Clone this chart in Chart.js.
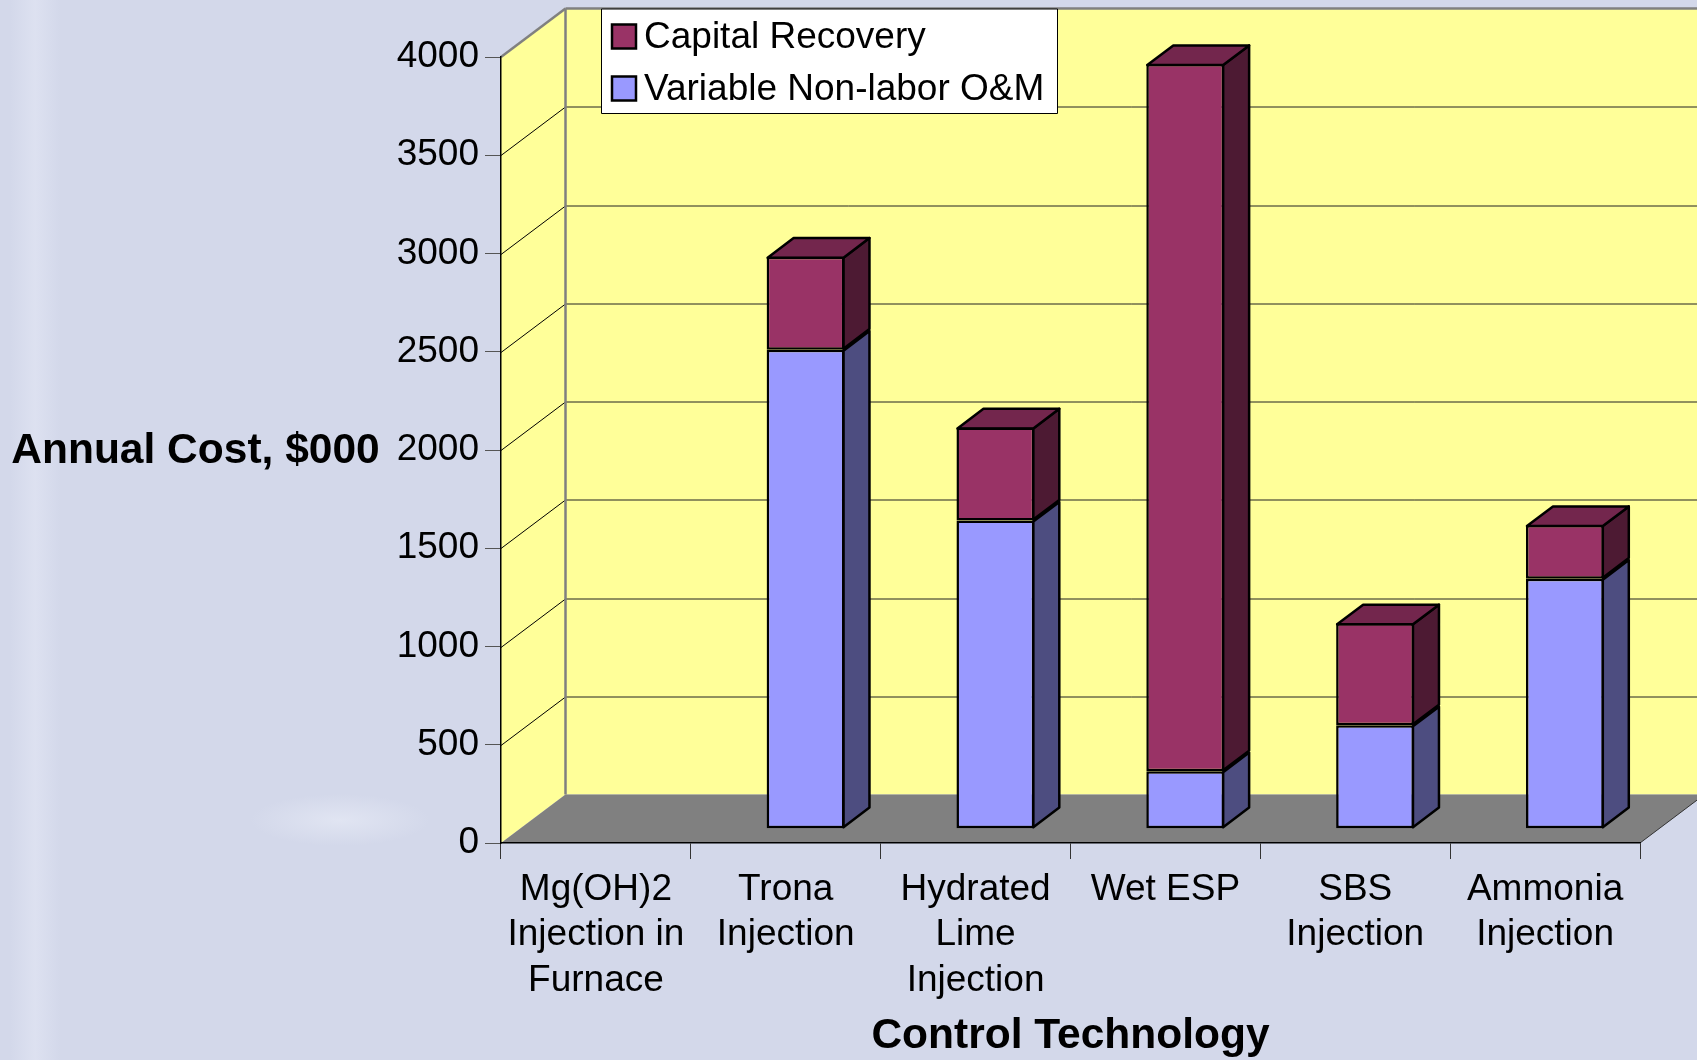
<!DOCTYPE html>
<html>
<head>
<meta charset="utf-8">
<title>Annual Cost by Control Technology</title>
<style>
    html, body { margin: 0; padding: 0; overflow: hidden; }
    body {
        width: 1697px;
        height: 1060px;
        background-color: #d3d8ea;
        background-image:
            radial-gradient(ellipse 90px 26px at 340px 820px, rgba(226, 230, 243, .9), rgba(226, 230, 243, 0)),
            linear-gradient(90deg, rgba(222, 226, 241, 0) 10px, rgba(222, 226, 241, .9) 35px, rgba(222, 226, 241, 0) 60px);
    }
    canvas { display: block; }
</style>
</head>
<body>
<canvas id="chart" width="1697" height="1060"></canvas>
<script src="https://cdn.jsdelivr.net/npm/chart.js@4"></script>
<script>
const categories = [
    ['Mg(OH)2', 'Injection in', 'Furnace'],
    ['Trona', 'Injection'],
    ['Hydrated', 'Lime', 'Injection'],
    ['Wet ESP'],
    ['SBS', 'Injection'],
    ['Ammonia', 'Injection']
];
const variableNonLabor = [null, 2438, 1568, 292, 526, 1272];
const capitalRecovery = [null, 473, 474, 3599, 519, 273];
const yTicks = [0, 500, 1000, 1500, 2000, 2500, 3000, 3500, 4000];

const fontName = '"Liberation Sans", Arial, sans-serif';

// depth of the floor, and where the bars stand on it
const depthX = 64.5, depthY = 48.5;
const barShiftX = 19.8, barShiftY = 14.3;
const sideX = 26, sideY = 19.7;

function poly(ctx, points, fill, stroke, width) {
    ctx.beginPath();
    points.forEach((p, i) => i ? ctx.lineTo(p[0], p[1]) : ctx.moveTo(p[0], p[1]));
    ctx.closePath();
    if (fill) { ctx.fillStyle = fill; ctx.fill(); }
    if (stroke) { ctx.strokeStyle = stroke; ctx.lineWidth = width; ctx.stroke(); }
}

function line(ctx, x1, y1, x2, y2, color, width) {
    ctx.beginPath();
    ctx.moveTo(x1, y1);
    ctx.lineTo(x2, y2);
    ctx.strokeStyle = color;
    ctx.lineWidth = width;
    ctx.stroke();
}

const box3d = {
    id: 'box3d',
    // walls and floor, behind everything
    beforeDraw(chart) {
        const ctx = chart.ctx, a = chart.chartArea, y = chart.scales.y;
        const top = y.getPixelForValue(4000), zero = y.getPixelForValue(0);
        ctx.save();
        poly(ctx, [[a.left, top], [a.left + depthX, top - depthY], [1697, top - depthY], [1697, zero - depthY], [a.left + depthX, zero - depthY], [a.left, zero]], '#ffff99');
        poly(ctx, [[a.left, zero], [a.left + depthX, zero - depthY], [a.right + depthX, zero - depthY], [a.right, zero]], '#808080');
        line(ctx, a.right, zero, a.right + depthX, zero - depthY, '#333', 1);
        yTicks.slice(1, -1).forEach(v => {
            const py = Math.round(y.getPixelForValue(v)) + .5;
            line(ctx, a.left, py, a.left + depthX, py - depthY, '#000', 1);
            line(ctx, a.left + depthX, py - depthY, 1697, py - depthY, '#222', 1);
        });
        line(ctx, a.left, top, a.left + depthX, top - depthY, '#808080', 2.5);
        line(ctx, a.left + depthX, top - depthY, 1697, top - depthY, '#808080', 2.5);
        line(ctx, a.left + depthX, top - depthY, a.left + depthX, zero - depthY, '#808080', 2.5);
        ctx.restore();
    },
    // side and top faces, the chart then draws the front of the bars
    beforeDatasetsDraw(chart) {
        const ctx = chart.ctx;
        ctx.save();
        ctx.lineJoin = 'round';
        chart.data.datasets.forEach((ds, d) => {
            chart.getDatasetMeta(d).data.forEach((bar, i) => {
                if (ds.data[i] === null) return;
                const right = bar.x + bar.width / 2 + barShiftX - 1;
                const left = bar.x - bar.width / 2 + barShiftX + 1;
                const t = bar.y - barShiftY + 1, b = bar.base - barShiftY - 1;
                poly(ctx, [[right, t], [right + sideX, t - sideY], [right + sideX, b - sideY], [right, b]], ds.sideColor, '#000', 2.5);
                if (d === chart.data.datasets.length - 1) {
                    poly(ctx, [[left, t], [left + sideX, t - sideY], [right + sideX, t - sideY], [right, t]], ds.topColor, '#000', 2.5);
                }
            });
        });
        ctx.translate(barShiftX, -barShiftY);
    },
    afterDatasetsDraw(chart) {
        chart.ctx.restore();
    },
    // y title lies flat, and the legend sits on the back wall
    afterDraw(chart) {
        const ctx = chart.ctx;
        ctx.save();
        ctx.fillStyle = '#000';
        ctx.textBaseline = 'middle';
        ctx.textAlign = 'center';
        ctx.font = 'bold 42.5px ' + fontName;
        ctx.fillText('Annual Cost, $000', 195.5, chart.scales.y.getPixelForValue(2000) + 1);

        poly(ctx, [[601.5, 9], [1057.5, 9], [1057.5, 113.5], [601.5, 113.5]], '#fff', '#000', 1);
        ctx.textAlign = 'left';
        ctx.font = '37px ' + fontName;
        [chart.data.datasets[1], chart.data.datasets[0]].forEach((ds, i) => {
            const cy = 36.5 + i * 52;
            poly(ctx, [[612, cy - 12], [636, cy - 12], [636, cy + 12], [612, cy + 12]], ds.backgroundColor, '#000', 2.5);
            ctx.fillStyle = '#000';
            ctx.fillText(ds.label, 644, cy + 1);
        });
        ctx.restore();
    }
};

new Chart(document.querySelector('#chart').getContext('2d'), {
    type: 'bar',
    plugins: [box3d],
    data: {
        labels: categories,
        datasets: [
            {
                label: 'Variable Non-labor O&M',
                data: variableNonLabor,
                backgroundColor: '#9999ff',
                sideColor: '#4d4d80',
                topColor: '#73739f',
                borderColor: '#000',
                borderWidth: 2.5,
                borderSkipped: false,
                clip: false
            },
            {
                label: 'Capital Recovery',
                data: capitalRecovery,
                backgroundColor: '#993366',
                sideColor: '#4d1a33',
                topColor: '#73264d',
                borderColor: '#000',
                borderWidth: 2.5,
                borderSkipped: false,
                clip: false
            }
        ]
    },
    options: {
        responsive: false,
        animation: false,
        layout: { padding: { top: 57, right: 57, bottom: 0, left: 0 } },
        categoryPercentage: 0.41,
        barPercentage: 1,
        plugins: {
            legend: { display: false },
            tooltip: { enabled: false }
        },
        scales: {
            x: {
                stacked: true,
                afterFit: s => { s.height = 217; },
                grid: { drawOnChartArea: false, tickLength: 16, color: '#333' },
                border: { color: '#000', width: 1.5 },
                ticks: {
                    autoSkip: false,
                    maxRotation: 0,
                    padding: 8,
                    color: '#000',
                    font: { family: fontName, size: 37, lineHeight: 1.23 }
                },
                title: {
                    display: true,
                    text: 'Control Technology',
                    color: '#000',
                    padding: { top: 0, bottom: 2 },
                    font: { family: fontName, size: 42.5, weight: 'bold', lineHeight: 1 }
                }
            },
            y: {
                stacked: true,
                min: 0,
                max: 4000,
                afterFit: s => { s.width = 501; },
                afterBuildTicks: s => { s.ticks = yTicks.map(v => ({ value: v })); },
                grid: { drawOnChartArea: false, tickLength: 16, color: '#555' },
                border: { color: '#000', width: 1.5 },
                ticks: {
                    padding: 6,
                    color: '#000',
                    callback: v => String(v),
                    font: { family: fontName, size: 37 }
                }
            }
        }
    }
});
</script>
</body>
</html>
